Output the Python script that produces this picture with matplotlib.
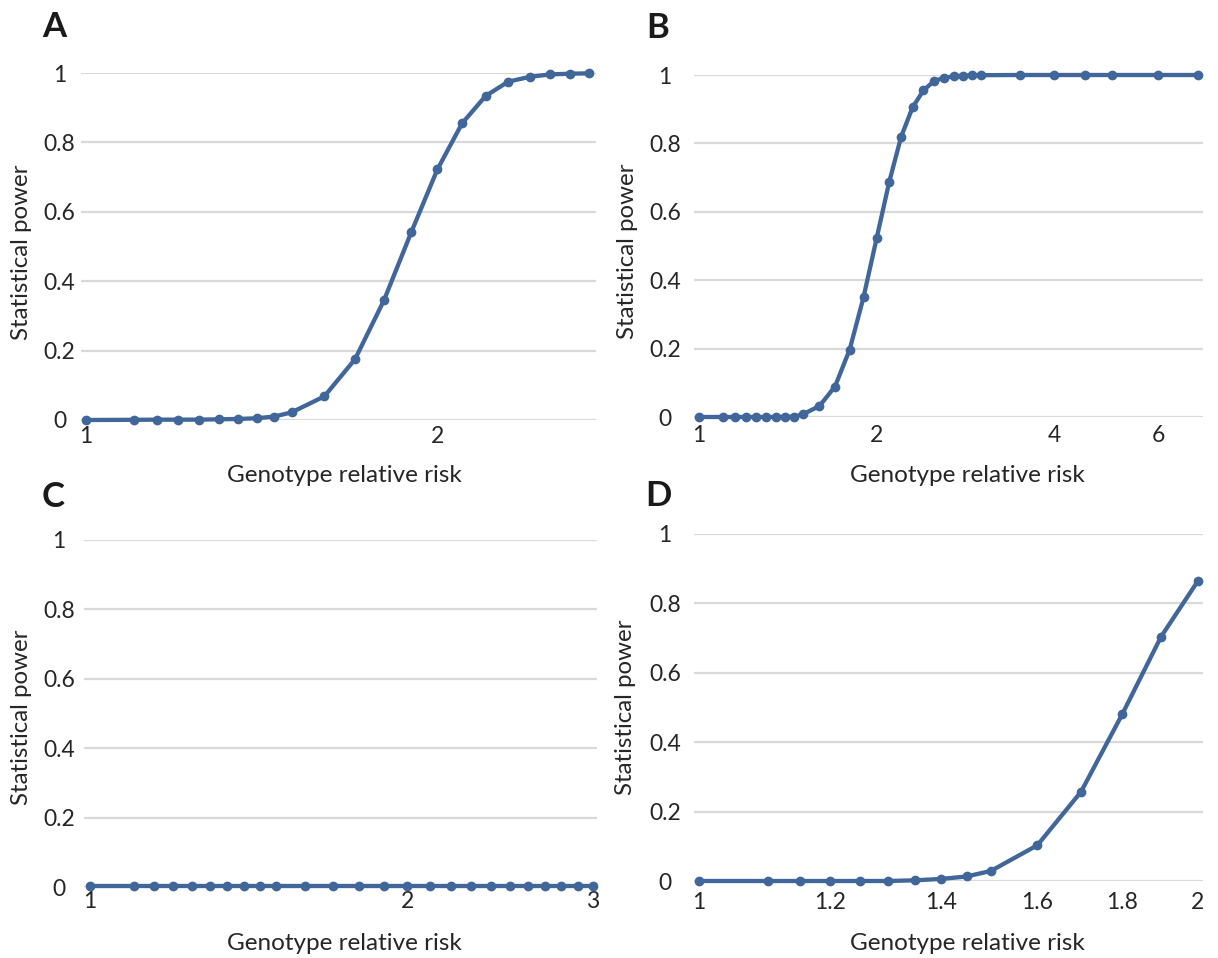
import matplotlib
matplotlib.use("Agg")
import matplotlib.pyplot as plt
from matplotlib.ticker import FixedLocator, FixedFormatter, NullLocator

plt.rcParams['font.family'] = ['Lato', 'DejaVu Sans']

# ---------------- data ----------------
x_a = [1.0, 1.1, 1.15, 1.2, 1.25, 1.3, 1.35, 1.4, 1.45, 1.5,
       1.6, 1.7, 1.8, 1.9, 2.0, 2.1, 2.2, 2.3, 2.4, 2.5, 2.6, 2.7]
y_a = [0.0, 0.0005, 0.001, 0.001, 0.001, 0.002, 0.003, 0.005, 0.010, 0.022,
       0.068, 0.175, 0.345, 0.542, 0.722, 0.855, 0.934, 0.975, 0.989, 0.996, 0.998, 0.999]

x_b = [1.0, 1.1, 1.15, 1.2, 1.25, 1.3, 1.35, 1.4, 1.45, 1.5,
       1.6, 1.7, 1.8, 1.9, 2.0, 2.1, 2.2, 2.3, 2.4, 2.5, 2.6, 2.7, 2.8, 2.9, 3.0,
       3.5, 4.0, 4.5, 5.0, 6.0, 7.0]
y_b = [0.0, 0.0, 0.0, 0.0, 0.0, 0.0, 0.0, 0.0005, 0.001, 0.008,
       0.032, 0.089, 0.197, 0.350, 0.523, 0.687, 0.819, 0.905, 0.955, 0.982, 0.992, 0.996, 0.998, 0.999, 0.9995,
       1.0, 1.0, 1.0, 1.0, 1.0, 1.0]

x_c = [1.0, 1.1, 1.15, 1.2, 1.25, 1.3, 1.35, 1.4, 1.45, 1.5,
       1.6, 1.7, 1.8, 1.9, 2.0, 2.1, 2.2, 2.3, 2.4, 2.5, 2.6, 2.7, 2.8, 2.9, 3.0]
y_c = [0.002] * 25

x_d = [1.0, 1.1, 1.15, 1.2, 1.25, 1.3, 1.35, 1.4, 1.45, 1.5,
       1.6, 1.7, 1.8, 1.9, 2.0]
y_d = [0.0, 0.0, 0.0, 0.0, 0.0, 0.0, 0.002, 0.006, 0.013, 0.029,
       0.103, 0.257, 0.480, 0.704, 0.865]

xticks_a = [1, 2]
xticks_b = [1, 2, 4, 6]
xticks_c = [1, 2, 3]
xticks_d = [1, 1.2, 1.4, 1.6, 1.8, 2]
yticks = [0, 0.2, 0.4, 0.6, 0.8, 1]
ytick_labels = ["0", "0.2", "0.4", "0.6", "0.8", "1"]

panel_letters = ["A", "B", "C", "D"]
xlabel = "Genotype relative risk"
ylabel = "Statistical power"

# ---------------- layout ----------------
W, H = 1218, 958
fig = plt.figure(figsize=(W / 100, H / 100), dpi=100)

def rect(l, r, top, bot):
    return [l / W, 1 - bot / H, (r - l) / W, (bot - top) / H]

LINE = '#41679A'
GRID = '#D9D9D9'
TXT = '#262626'

panels = [
    dict(x=x_a, y=y_a, ticks=xticks_a, lim=(0.990, 2.735), r=rect(81, 596, 73, 420),
         letter=(54, 27), ylab=(22, 252), xlab=(344, 476), ypad=15.5, xpad=4.5),
    dict(x=x_b, y=y_b, ticks=xticks_b, lim=(0.981, 7.14), r=rect(694, 1203, 75, 417),
         letter=(658, 28), ylab=(627, 251), xlab=(967, 476), ypad=21, xpad=5.5),
    dict(x=x_c, y=y_c, ticks=xticks_c, lim=(0.987, 3.026), r=rect(84, 597, 540, 887),
         letter=(53, 497), ylab=(22, 717), xlab=(344, 944), ypad=18, xpad=3),
    dict(x=x_d, y=y_d, ticks=xticks_d, lim=(0.993, 2.014), r=rect(694, 1203, 534, 881),
         letter=(658, 496), ylab=(626, 707), xlab=(967, 944), ypad=21, xpad=8),
]

for p, letter in zip(panels, panel_letters):
    ax = fig.add_axes(p['r'])
    ax.set_xscale('log')
    ax.set_xlim(*p['lim'])
    ax.set_ylim(0, 1)
    ax.plot(p['x'], p['y'], color=LINE, lw=3.1, marker='o', ms=6,
            solid_capstyle='round', clip_on=False, zorder=3)
    for s in ax.spines.values():
        s.set_visible(False)
    ax.yaxis.set_major_locator(FixedLocator(yticks))
    ax.yaxis.set_major_formatter(FixedFormatter(ytick_labels))
    ax.yaxis.set_minor_locator(NullLocator())
    ax.xaxis.set_major_locator(FixedLocator(p['ticks']))
    ax.xaxis.set_major_formatter(FixedFormatter([f"{t:g}" for t in p['ticks']]))
    ax.xaxis.set_minor_locator(NullLocator())
    ax.grid(axis='y', color=GRID, lw=1.6, zorder=0)
    ax.grid(axis='x', visible=False)
    ax.set_axisbelow(True)
    ax.tick_params(axis='both', length=0, labelsize=16.5, colors=TXT)
    ax.tick_params(axis='x', pad=p['xpad'])
    ax.tick_params(axis='y', pad=p['ypad'])
    for t in ax.get_yticklabels():
        t.set_horizontalalignment('center')
    fig.text(p['letter'][0] / W, 1 - p['letter'][1] / H, letter, fontsize=25,
             fontweight='bold', ha='center', va='center', color='#1a1a1a')
    fig.text(p['ylab'][0] / W, 1 - p['ylab'][1] / H, ylabel, fontsize=17.3,
             rotation=90, ha='center', va='center', color=TXT)
    fig.text(p['xlab'][0] / W, 1 - p['xlab'][1] / H, xlabel, fontsize=17.5,
             ha='center', va='center', color=TXT)

fig.savefig('out.png', dpi=100, facecolor='white')
